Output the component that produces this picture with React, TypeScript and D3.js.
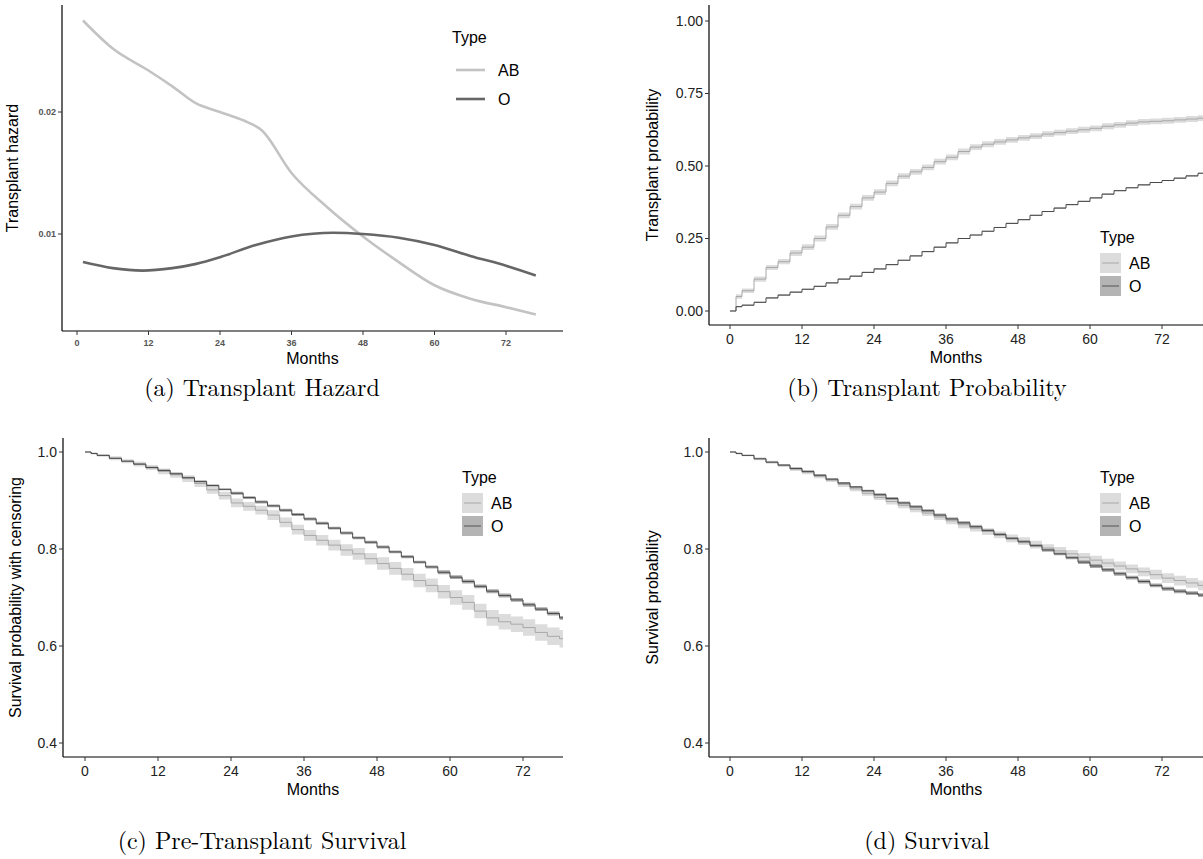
import React from "react";
import * as d3 from "d3";

const hazMonths = [1, 6, 12, 16, 20, 24, 28, 31, 36, 42, 48, 54, 60, 66, 72, 77];
const hazAB = [0.0275, 0.0252, 0.0234, 0.0221, 0.0207, 0.0200, 0.0193, 0.0185, 0.0150, 0.0122, 0.0098, 0.0077, 0.0058, 0.0047, 0.0040, 0.0034];
const hazOMonths = [1, 6, 11, 16, 20, 24, 30, 36, 43, 48, 54, 60, 66, 72, 77];
const hazO = [0.0077, 0.0072, 0.0070, 0.0072, 0.00755, 0.0081, 0.0091, 0.0098, 0.0101, 0.0100, 0.0097, 0.0091, 0.0082, 0.0074, 0.0066];

const stepMonths = [0, 1, 2, 4, 6, 8, 10, 12, 14, 16, 18, 20, 22, 24, 26, 28, 30, 32, 34, 36, 38, 40, 42, 44, 46, 48, 50, 52, 54, 56, 58, 60, 62, 64, 66, 68, 70, 72, 74, 76, 78, 80];
const tpAB = [0, 0.05, 0.07, 0.11, 0.15, 0.17, 0.20, 0.22, 0.25, 0.29, 0.33, 0.36, 0.39, 0.41, 0.44, 0.465, 0.48, 0.495, 0.515, 0.53, 0.55, 0.565, 0.575, 0.583, 0.59, 0.597, 0.603, 0.61, 0.615, 0.62, 0.625, 0.63, 0.637, 0.642, 0.648, 0.652, 0.654, 0.656, 0.659, 0.662, 0.665, 0.666];
const tpO = [0, 0.015, 0.02, 0.03, 0.045, 0.055, 0.065, 0.075, 0.085, 0.097, 0.11, 0.12, 0.133, 0.145, 0.16, 0.175, 0.19, 0.205, 0.22, 0.235, 0.25, 0.262, 0.275, 0.288, 0.302, 0.315, 0.33, 0.343, 0.355, 0.367, 0.378, 0.39, 0.403, 0.415, 0.425, 0.435, 0.443, 0.45, 0.458, 0.466, 0.475, 0.48];
const tpABci = [0, 0.008, 0.008, 0.009, 0.009, 0.009, 0.01, 0.01, 0.01, 0.01, 0.01, 0.01, 0.01, 0.01, 0.01, 0.01, 0.01, 0.01, 0.01, 0.01, 0.01, 0.01, 0.01, 0.01, 0.01, 0.01, 0.01, 0.01, 0.01, 0.01, 0.01, 0.01, 0.01, 0.01, 0.01, 0.01, 0.01, 0.01, 0.01, 0.01, 0.01, 0.01];
const tpOci = [0, 0.002, 0.002, 0.002, 0.002, 0.002, 0.002, 0.002, 0.002, 0.002, 0.002, 0.002, 0.002, 0.002, 0.002, 0.002, 0.002, 0.002, 0.002, 0.002, 0.002, 0.002, 0.002, 0.002, 0.002, 0.002, 0.002, 0.002, 0.002, 0.002, 0.002, 0.002, 0.002, 0.002, 0.002, 0.002, 0.002, 0.002, 0.002, 0.002, 0.002, 0.002];

const pcO = [1, 0.997, 0.993, 0.987, 0.981, 0.975, 0.968, 0.962, 0.955, 0.947, 0.939, 0.931, 0.923, 0.915, 0.906, 0.897, 0.889, 0.88, 0.871, 0.862, 0.853, 0.843, 0.833, 0.823, 0.814, 0.804, 0.794, 0.784, 0.773, 0.763, 0.752, 0.742, 0.733, 0.723, 0.713, 0.704, 0.695, 0.685, 0.676, 0.667, 0.658, 0.655];
const pcAB = [1, 0.997, 0.993, 0.987, 0.981, 0.975, 0.968, 0.96, 0.953, 0.945, 0.935, 0.922, 0.91, 0.895, 0.888, 0.88, 0.87, 0.855, 0.84, 0.828, 0.818, 0.808, 0.798, 0.79, 0.78, 0.77, 0.76, 0.748, 0.735, 0.725, 0.712, 0.70, 0.69, 0.672, 0.658, 0.65, 0.645, 0.638, 0.628, 0.62, 0.615, 0.613];
const pcABci = [0, 0.002, 0.003, 0.004, 0.004, 0.005, 0.005, 0.006, 0.006, 0.007, 0.007, 0.008, 0.008, 0.009, 0.009, 0.009, 0.01, 0.01, 0.01, 0.011, 0.011, 0.011, 0.012, 0.012, 0.012, 0.013, 0.013, 0.013, 0.014, 0.014, 0.014, 0.015, 0.015, 0.015, 0.016, 0.016, 0.016, 0.017, 0.017, 0.018, 0.018, 0.018];
const pcOci = [0, 0.001, 0.001, 0.001, 0.001, 0.002, 0.002, 0.002, 0.002, 0.002, 0.002, 0.002, 0.002, 0.003, 0.003, 0.003, 0.003, 0.003, 0.003, 0.003, 0.003, 0.003, 0.003, 0.003, 0.003, 0.003, 0.003, 0.003, 0.003, 0.003, 0.004, 0.004, 0.004, 0.004, 0.004, 0.004, 0.004, 0.004, 0.004, 0.004, 0.004, 0.004];

const sdO = [1, 0.997, 0.993, 0.986, 0.979, 0.973, 0.966, 0.96, 0.952, 0.944, 0.936, 0.928, 0.92, 0.912, 0.904, 0.895, 0.887, 0.879, 0.87, 0.862, 0.854, 0.846, 0.838, 0.83, 0.822, 0.815, 0.807, 0.798, 0.79, 0.782, 0.773, 0.765, 0.757, 0.749, 0.741, 0.733, 0.725, 0.718, 0.713, 0.709, 0.705, 0.702];
const sdAB = [1, 0.997, 0.993, 0.986, 0.979, 0.972, 0.965, 0.958, 0.95, 0.942, 0.933, 0.924, 0.915, 0.906, 0.898, 0.89, 0.882, 0.874, 0.866, 0.858, 0.85, 0.843, 0.836, 0.829, 0.822, 0.816, 0.809, 0.802, 0.796, 0.79, 0.783, 0.777, 0.771, 0.765, 0.759, 0.753, 0.747, 0.740, 0.735, 0.730, 0.725, 0.723];
const sdABci = [0, 0.002, 0.002, 0.003, 0.003, 0.003, 0.004, 0.004, 0.004, 0.004, 0.005, 0.005, 0.005, 0.005, 0.006, 0.006, 0.006, 0.006, 0.006, 0.007, 0.007, 0.007, 0.007, 0.007, 0.008, 0.008, 0.008, 0.008, 0.008, 0.008, 0.009, 0.009, 0.009, 0.009, 0.009, 0.009, 0.01, 0.01, 0.01, 0.01, 0.01, 0.01];

const monthTicks = [0, 12, 24, 36, 48, 60, 72];
const SANS = "'Liberation Sans', Arial, sans-serif";
const SERIF = "'Latin Modern Roman', 'DejaVu Serif', serif";

function Axes({ box, x, y, yTicks, fmt, ylabel, small, ylabOff }: any) {
  const fs = small ? 9 : 14;
  return (
    <g fontFamily={SANS}>
      <line x1={box.x0} x2={box.x0} y1={box.y0} y2={box.y1} stroke="#000" strokeWidth={1.2} />
      <line x1={box.x0} x2={box.x1} y1={box.y1} y2={box.y1} stroke="#000" strokeWidth={1.2} />
      {monthTicks.map((t) => (
        <g key={t}>
          <line x1={x(t)} x2={x(t)} y1={box.y1} y2={box.y1 + 4} stroke="#333" />
          <text x={x(t)} y={box.y1 + (small ? 15 : 19)} textAnchor="middle" fontSize={fs} fontWeight={small ? "bold" : "normal"} fill={small ? "#555" : "#222"}>{t}</text>
        </g>
      ))}
      {yTicks.map((t: number) => (
        <g key={t}>
          <line x1={box.x0 - 4} x2={box.x0} y1={y(t)} y2={y(t)} stroke="#333" />
          <text x={box.x0 - 6} y={y(t)} dy="0.35em" textAnchor="end" fontSize={fs} fontWeight={small ? "bold" : "normal"} fill={small ? "#555" : "#222"}>{fmt(t)}</text>
        </g>
      ))}
      <text x={(box.x0 + box.x1) / 2} y={box.y1 + (small ? 33 : 38)} textAnchor="middle" fontSize={16}>Months</text>
      <text transform={`translate(${box.x0 - ylabOff},${(box.y0 + box.y1) / 2}) rotate(-90)`} textAnchor="middle" fontSize={16}>{ylabel}</text>
    </g>
  );
}

function StepPanel({ box, yDom, yTicks, fmt, ylabel, ab, abci, o, oci, legend, clipId, ylabOff }: any) {
  const x = d3.scaleLinear().domain([0, 72]).range([box.xa, box.xb]);
  const y = d3.scaleLinear().domain(yDom).range([box.ya, box.yb]);
  const idx = stepMonths.map((_, i) => i);
  const line = (v: number[]) => d3.line<number>().x((i) => x(stepMonths[i])).y((i) => y(v[i])).curve(d3.curveStepAfter)(idx) as string;
  const area = (v: number[], c: number[]) => d3.area<number>().x((i) => x(stepMonths[i])).y0((i) => y(v[i] - c[i])).y1((i) => y(v[i] + c[i])).curve(d3.curveStepAfter)(idx) as string;
  return (
    <g>
      <clipPath id={clipId}><rect x={box.x0} y={box.y0} width={box.x1 - box.x0} height={box.y1 - box.y0} /></clipPath>
      <g clipPath={`url(#${clipId})`}>
        <path d={area(ab, abci)} fill="#dcdcdc" />
        <path d={area(o, oci)} fill="#a9a9a9" />
        <path d={line(ab)} fill="none" stroke="#a8a8a8" strokeWidth={1} />
        <path d={line(o)} fill="none" stroke="#4a4a4a" strokeWidth={1} />
      </g>
      <Axes box={box} x={x} y={y} yTicks={yTicks} fmt={fmt} ylabel={ylabel} ylabOff={ylabOff} />
      <g fontFamily={SANS}>
        <text x={legend.x} y={legend.y} fontSize={16}>Type</text>
        <rect x={legend.x} y={legend.y + 10} width={21} height={20} fill="#dcdcdc" />
        <line x1={legend.x + 2} x2={legend.x + 19} y1={legend.y + 20} y2={legend.y + 20} stroke="#a8a8a8" />
        <text x={legend.x + 29} y={legend.y + 26} fontSize={16}>AB</text>
        <rect x={legend.x} y={legend.y + 33} width={21} height={20} fill="#b4b4b4" />
        <line x1={legend.x + 2} x2={legend.x + 19} y1={legend.y + 43} y2={legend.y + 43} stroke="#555" />
        <text x={legend.x + 29} y={legend.y + 49} fontSize={16}>O</text>
      </g>
    </g>
  );
}

export default function App() {
  const boxA = { x0: 62, x1: 563, y0: 5, y1: 331 };
  const xa = d3.scaleLinear().domain([0, 72]).range([77, 506]);
  const ya = d3.scaleLinear().domain([0.01, 0.02]).range([234, 112]);
  const hz = (m: number[], v: number[]) => d3.line<number>().x((_, i) => xa(m[i])).y((d) => ya(d)).curve(d3.curveMonotoneX)(v) as string;

  return (
    <svg width={1203} height={859} style={{ position: "absolute", left: 0, top: 0, background: "#fff" }}>
      <path d={hz(hazMonths, hazAB)} fill="none" stroke="#c3c3c3" strokeWidth={2.6} />
      <path d={hz(hazOMonths, hazO)} fill="none" stroke="#666" strokeWidth={2.6} />
      <Axes box={boxA} x={xa} y={ya} yTicks={[0.01, 0.02]} fmt={(t: number) => t.toFixed(2)} ylabel="Transplant hazard" small ylabOff={44} />
      <g fontFamily={SANS}>
        <text x={452} y={43} fontSize={16}>Type</text>
        <line x1={456} x2={485} y1={70} y2={70} stroke="#c3c3c3" strokeWidth={2.6} />
        <text x={498} y={76} fontSize={16}>AB</text>
        <line x1={456} x2={485} y1={99} y2={99} stroke="#666" strokeWidth={2.6} />
        <text x={498} y={105} fontSize={16}>O</text>
      </g>

      <StepPanel clipId="cb" box={{ x0: 709, x1: 1203, y0: 5, y1: 325, xa: 730, xb: 1162, ya: 311, yb: 21 }}
        yDom={[0, 1]} yTicks={[0, 0.25, 0.5, 0.75, 1]} fmt={(t: number) => t.toFixed(2)} ylabel="Transplant probability"
        ab={tpAB} abci={tpABci} o={tpO} oci={tpOci} legend={{ x: 1100, y: 243 }} ylabOff={51} />

      <StepPanel clipId="cc" box={{ x0: 63, x1: 563, y0: 438, y1: 757, xa: 85, xb: 523, ya: 743, yb: 452 }}
        yDom={[0.4, 1]} yTicks={[0.4, 0.6, 0.8, 1.0]} fmt={(t: number) => t.toFixed(1)} ylabel="Survival probability with censoring"
        ab={pcAB} abci={pcABci} o={pcO} oci={pcOci} legend={{ x: 462, y: 483 }} ylabOff={42} />

      <StepPanel clipId="cd" box={{ x0: 709, x1: 1203, y0: 438, y1: 757, xa: 730, xb: 1162, ya: 743, yb: 452 }}
        yDom={[0.4, 1]} yTicks={[0.4, 0.6, 0.8, 1.0]} fmt={(t: number) => t.toFixed(1)} ylabel="Survival probability"
        ab={sdAB} abci={sdABci} o={sdO} oci={pcOci} legend={{ x: 1100, y: 483 }} ylabOff={51} />

      <g fontFamily={SERIF} fontSize={24} textAnchor="middle" fill="#000">
        <text x={262} y={396}>(a) Transplant Hazard</text>
        <text x={927} y={396}>(b) Transplant Probability</text>
        <text x={262} y={849}>(c) Pre-Transplant Survival</text>
        <text x={927} y={849}>(d) Survival</text>
      </g>
    </svg>
  );
}
